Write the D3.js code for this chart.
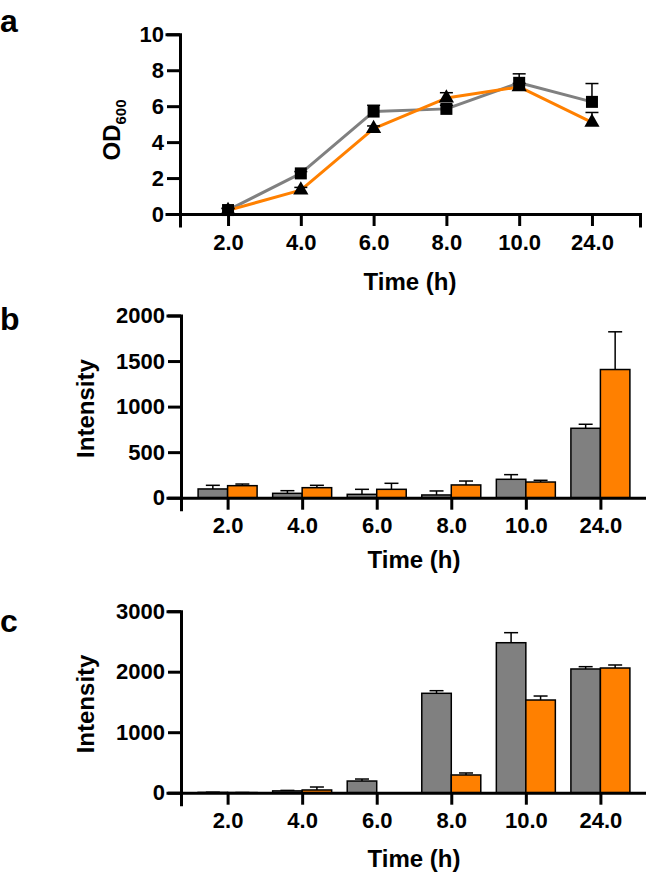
<!DOCTYPE html>
<html>
<head>
<meta charset="utf-8">
<script src="https://cdn.jsdelivr.net/npm/d3@7"></script>
<style>
  html, body { margin: 0; padding: 0; background: #fff; }
  svg { display: block; }
  text { font-family: "Liberation Sans", Arial, Helvetica, sans-serif; font-weight: bold; fill: #000; }
</style>
</head>
<body>
<svg id="chart" width="646" height="880"></svg>
<script>
// ---------- data ----------
const categories = ["2.0", "4.0", "6.0", "8.0", "10.0", "24.0"];
const seriesNames = ["gray", "orange"];

// panel a: OD600
const odGray = [0.22, 2.26, 5.7, 5.85, 7.3, 6.24];
const odGrayErr = [0.1, 0.1, 0.35, 0.2, 0.5, 1.02];
const odOrange = [0.2, 1.33, 4.75, 6.45, 7.07, 5.1];
const odOrangeErr = [0.1, 0.15, 0.15, 0.3, 0.2, 0.55];
const odTicks = [0, 2, 4, 6, 8, 10];

// panel b: Intensity
const bGray = [96, 48, 37, 30, 202, 762];
const bGrayErr = [40, 29, 55, 44, 51, 44];
const bOrange = [132, 110, 92, 140, 172, 1407];
const bOrangeErr = [18, 26, 66, 43, 19, 414];
const bTicks = [0, 500, 1000, 1500, 2000];

// panel c: Intensity
const cGray = [5, 30, 193, 1643, 2479, 2045];
const cGrayErr = [3, 8, 33, 43, 166, 38];
const cOrange = [2, 45, 0, 293, 1532, 2061];
const cOrangeErr = [1, 49, 0, 33, 66, 50];
const cTicks = [0, 1000, 2000, 3000];

const colors = { gray: "#808080", orange: "#FF8000" };

const svg = d3.select("#chart");

function styleAxis(g, fontSize) {
  g.attr("font-size", null).attr("font-family", null);
  g.select(".domain").attr("stroke", "#000").attr("stroke-width", 3).attr("stroke-linecap", "square");
  g.selectAll(".tick line").attr("stroke", "#000").attr("stroke-width", 3);
  g.selectAll(".tick text").style("font-size", fontSize + "px").attr("fill", "#000");
}

function drawAxes(x, y, ticks, yFmt) {
  const [y0] = y.range();
  const gx = svg.append("g").attr("transform", `translate(0,${y0})`)
    .call(d3.axisBottom(x).tickSizeOuter(0).tickSize(12).tickPadding(8));
  styleAxis(gx, 22);
  const gy = svg.append("g").attr("transform", `translate(${x.range()[0]},0)`)
    .call(d3.axisLeft(y).tickValues(ticks).tickFormat(yFmt).tickSizeOuter(0).tickSize(13).tickPadding(3));
  styleAxis(gy, 22);
}

function xTitle(x, baseline) {
  const r = x.range();
  svg.append("text").attr("x", (r[0] + r[1]) / 2).attr("y", baseline)
    .attr("text-anchor", "middle").style("font-size", "24px").text("Time (h)");
}

function panelLetter(t, baseline) {
  svg.append("text").attr("x", 0).attr("y", baseline).style("font-size", "32px").text(t);
}

// ---------- panel a ----------
{
  const x = d3.scalePoint().domain(categories).range([180, 640]).padding(0.66);
  const y = d3.scaleLinear().domain([0, 10]).range([214, 34.3]);
  drawAxes(x, y, odTicks, d3.format("d"));
  xTitle(x, 290);
  panelLetter("a", 32);
  const yl = svg.append("text").attr("transform", "translate(120,130) rotate(-90)")
    .attr("text-anchor", "middle").style("font-size", "24px");
  yl.append("tspan").text("OD");
  yl.append("tspan").attr("dy", 6).style("font-size", "15px").text("600");

  const sets = [
    { name: "gray", v: odGray, e: odGrayErr, sym: d3.symbolSquare, size: 144 },
    { name: "orange", v: odOrange, e: odOrangeErr, sym: d3.symbolTriangle, size: 100 }
  ];
  const line = d3.line().x((d, i) => x(categories[i])).y(d => y(d));
  sets.forEach(s => {
    svg.append("path").datum(s.v).attr("d", line).attr("fill", "none")
      .attr("stroke", colors[s.name]).attr("stroke-width", 3).attr("stroke-linejoin", "round");
  });
  sets.forEach(s => {
    const g = svg.append("g").attr("stroke", "#000").attr("stroke-width", 1.5);
    s.v.forEach((v, i) => {
      const cx = x(categories[i]);
      g.append("line").attr("x1", cx).attr("x2", cx).attr("y1", y(v)).attr("y2", y(v + s.e[i]));
      g.append("line").attr("x1", cx - 6.5).attr("x2", cx + 6.5).attr("y1", y(v + s.e[i])).attr("y2", y(v + s.e[i]));
    });
  });
  sets.forEach(s => {
    svg.append("g").selectAll("path").data(s.v).join("path")
      .attr("transform", (d, i) => `translate(${x(categories[i])},${y(d)})`)
      .attr("d", d3.symbol().type(s.sym).size(s.size)).attr("fill", "#000");
  });
}

// ---------- bar panels ----------
function barPanel(opts) {
  const x = d3.scalePoint().domain(categories).range([181, 647]).padding(0.625);
  const y = d3.scaleLinear().domain(opts.domain).range(opts.yRange);
  const bw = 29.5;
  const x1 = d3.scaleBand().domain(seriesNames).range([-bw, bw]);
  const data = [];
  categories.forEach((c, i) => {
    data.push({ c, s: "gray", v: opts.gray[i], e: opts.grayErr[i] });
    data.push({ c, s: "orange", v: opts.orange[i], e: opts.orangeErr[i] });
  });
  // error bars (upper only)
  const eg = svg.append("g").attr("stroke", "#000").attr("stroke-width", 1.5);
  data.filter(d => d.e > 0).forEach(d => {
    const cx = x(d.c) + x1(d.s) + x1.bandwidth() / 2;
    eg.append("line").attr("x1", cx).attr("x2", cx).attr("y1", y(d.v)).attr("y2", y(d.v + d.e));
    eg.append("line").attr("x1", cx - 7).attr("x2", cx + 7).attr("y1", y(d.v + d.e)).attr("y2", y(d.v + d.e));
  });
  svg.append("g").selectAll("rect").data(data.filter(d => d.v > 0)).join("rect")
    .attr("x", d => x(d.c) + x1(d.s))
    .attr("width", x1.bandwidth())
    .attr("y", d => y(d.v))
    .attr("height", d => y(0) - y(d.v))
    .attr("fill", d => colors[d.s])
    .attr("stroke", "#000").attr("stroke-width", 1.5);
  drawAxes(x, y, opts.ticks, d3.format("d"));
  xTitle(x, opts.titleY);
  panelLetter(opts.letter, opts.letterY);
  svg.append("text").attr("transform", `translate(94,${(opts.yRange[0] + opts.yRange[1]) / 2 + 2}) rotate(-90)`)
    .attr("text-anchor", "middle").style("font-size", "24px").text("Intensity");
}

barPanel({ letter: "b", letterY: 330, domain: [0, 2000], yRange: [497.7, 315.5], ticks: bTicks,
  gray: bGray, grayErr: bGrayErr, orange: bOrange, orangeErr: bOrangeErr, titleY: 568 });
barPanel({ letter: "c", letterY: 632, domain: [0, 3000], yRange: [792.7, 611.2], ticks: cTicks,
  gray: cGray, grayErr: cGrayErr, orange: cOrange, orangeErr: cOrangeErr, titleY: 867 });
</script>
</body>
</html>
